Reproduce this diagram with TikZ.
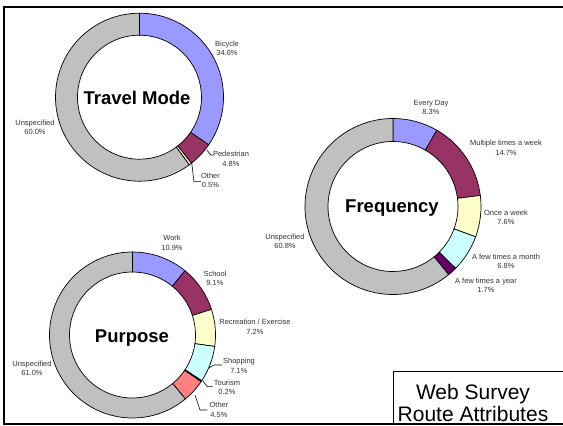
\documentclass[tikz,border=0pt]{standalone}
\usepackage{fontspec}
\setmainfont{Liberation Sans}
\definecolor{cblue}{HTML}{9999FF}
\definecolor{cplum}{HTML}{993366}
\definecolor{cyel}{HTML}{FFFFCC}
\definecolor{ccyan}{HTML}{CCFFFF}
\definecolor{cpurp}{HTML}{660066}
\definecolor{csalm}{HTML}{FF8080}
\definecolor{cgray}{HTML}{C0C0C0}
\newcommand\donutslice[7]{%
  \filldraw[slice, fill=#7, shift={(#1,#2)}] (#5:#4) arc[start angle=#5, end angle=#6, radius=#4] -- (#6:#3) arc[start angle=#6, end angle=#5, radius=#3] -- cycle;}
\begin{document}
\begin{tikzpicture}[x=1pt,y=1pt,
  lbl/.style={font=\fontsize{7.5}{9.5}\selectfont, text=black!80, align=center, inner sep=0pt},
  charttitle/.style={font=\fontsize{18.5}{22}\selectfont\bfseries, inner sep=0pt},
  legendtext/.style={font=\fontsize{21}{22}\selectfont, align=center, inner sep=0pt},
  slice/.style={draw=black, line width=0.7pt},
  leader/.style={draw=black, line width=0.6pt},
  frame/.style={draw=black, line width=1.8pt}]
\useasboundingbox (0,0) rectangle (563,426);
\fill[white] (0,0) rectangle (563,426);

% ---------- Travel Mode ----------
\donutslice{139.5}{328.8}{62}{84}{90}{-34.56}{cblue}
\donutslice{139.5}{328.8}{62}{84}{-34.56}{-51.84}{cplum}
\donutslice{139.5}{328.8}{62}{84}{-51.84}{-53.64}{cyel}
\donutslice{139.5}{328.8}{62}{84}{-53.64}{-270}{cgray}
\node[charttitle] (tmtitle) at (137,328) {Travel Mode};
\node[lbl] (tmbike) at (227,377.5) {Bicycle\\34.6\%};
\node[lbl] (tmped) at (231,267) {Pedestrian\\4.8\%};
\node[lbl] (tmoth) at (210.5,245.5) {Other\\0.5\%};
\node[lbl] (tmuns) at (35,298.5) {Unspecified\\60.0\%};
\coordinate (tmpedA) at (207,276);
\coordinate (tmpedB) at (210.7,271);
\coordinate (tmothA) at (191.7,263.3);
\coordinate (tmothB) at (194,244.3);
\draw[leader] (tmpedA) -- (tmpedB) -- (tmped.west |- tmpedB);
\draw[leader] (tmothA) -- (tmothB) -- (tmoth.west |- tmothB);

% ---------- Frequency ----------
\donutslice{393}{219.5}{65}{88}{90}{60.12}{cblue}
\donutslice{393}{219.5}{65}{88}{60.12}{7.2}{cplum}
\donutslice{393}{219.5}{65}{88}{7.2}{-20.16}{cyel}
\donutslice{393}{219.5}{65}{88}{-20.16}{-44.64}{ccyan}
\donutslice{393}{219.5}{65}{88}{-44.64}{-50.76}{cpurp}
\donutslice{393}{219.5}{65}{88}{-50.76}{-270}{cgray}
\node[charttitle] (frtitle) at (392,218) {Frequency};
\node[lbl] (frday) at (431,318.5) {Every Day\\8.3\%};
\node[lbl] (frmult) at (506,278) {Multiple times a week\\14.7\%};
\node[lbl] (fronce) at (506,208.5) {Once a week\\7.6\%};
\node[lbl] (frmonth) at (506,164.5) {A few times a month\\6.8\%};
\node[lbl] (fryear) at (486,140.5) {A few times a year\\1.7\%};
\node[lbl] (fruns) at (285,184.5) {Unspecified\\60.8\%};

% ---------- Purpose ----------
\donutslice{132.5}{91}{63}{83}{90}{50.76}{cblue}
\donutslice{132.5}{91}{63}{83}{50.76}{18}{cplum}
\donutslice{132.5}{91}{63}{83}{18}{-7.92}{cyel}
\donutslice{132.5}{91}{63}{83}{-7.92}{-33.48}{ccyan}
\donutslice{132.5}{91}{63}{83}{-33.48}{-34.2}{cpurp}
\donutslice{132.5}{91}{63}{83}{-34.2}{-50.4}{csalm}
\donutslice{132.5}{91}{63}{83}{-50.4}{-270}{cgray}
\node[charttitle] (putitle) at (132,88) {Purpose};
\node[lbl] (puwork) at (172,183) {Work\\10.9\%};
\node[lbl] (puschool) at (215,147.5) {School\\9.1\%};
\node[lbl] (purec) at (255,99) {Recreation / Exercise\\7.2\%};
\node[lbl] (pushop) at (239,60) {Shopping\\7.1\%};
\node[lbl] (putour) at (227,38.5) {Tourism\\0.2\%};
\node[lbl] (puoth) at (219,16) {Other\\4.5\%};
\node[lbl] (puuns) at (32,57.5) {Unspecified\\61.0\%};
\coordinate (pushopA) at (209,58);
\coordinate (pushopB) at (214,61);
\coordinate (putourA) at (202.7,45.3);
\coordinate (putourB) at (207.3,39.3);
\coordinate (puothA) at (195,31);
\coordinate (puothB) at (200,16);
\draw[leader] (pushopA) -- (pushopB) -- ([xshift=-1pt]pushop.west |- pushopB);
\draw[leader] (putourA) -- (putourB) -- ([xshift=-1pt]putour.west |- putourB);
\draw[leader] (puothA) -- (puothB) -- ([xshift=-2pt]puoth.west |- puothB);

% ---------- Frame and legend ----------
\draw[frame] (570,419) -- (4,419) -- (4,2) -- (570,2);
\draw[line width=0.8pt] (570,55) -| (393,2);
\node[legendtext] (legend) at (473,23) {Web Survey\\Route Attributes};
\end{tikzpicture}
\end{document}
